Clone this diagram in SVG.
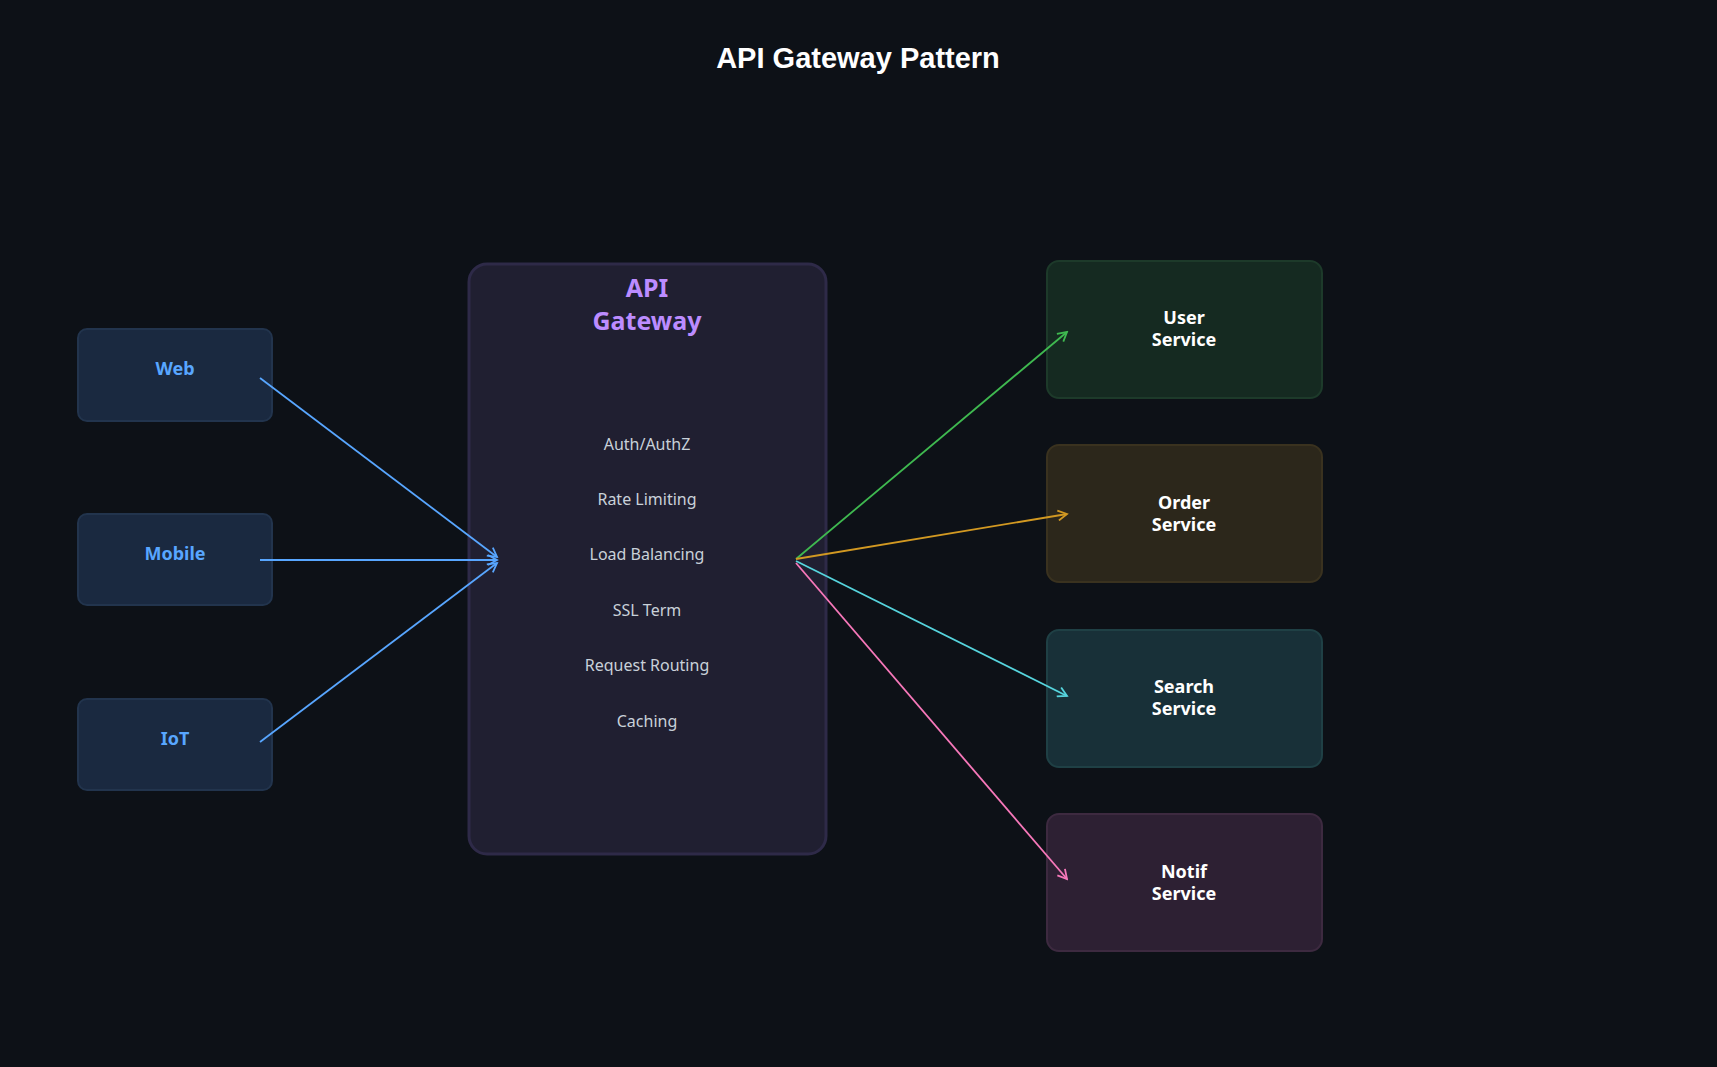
<svg xmlns="http://www.w3.org/2000/svg" width="1717" height="1067" viewBox="0 0 1717 1067">
<style>
text{font-family:"Noto Sans","DejaVu Sans",sans-serif;text-anchor:middle}
.client rect{fill:#1a2940;stroke:#22344d;stroke-width:2}
.client text{fill:#58a6ff;font-size:18px;font-weight:bold}
.svc text{fill:#ffffff;font-size:18px;font-weight:bold}
.item{fill:#c9d1d9;font-size:16px}
.c{fill:none;stroke-width:1.8}
</style>
<defs>
<marker id="mb" markerWidth="12" markerHeight="12" refX="10" refY="6" orient="auto" markerUnits="userSpaceOnUse"><path d="M1,1 L10,6 L1,11" fill="none" stroke="#58a6ff" stroke-width="1.8"/></marker>
<marker id="mg" markerWidth="12" markerHeight="12" refX="10" refY="6" orient="auto" markerUnits="userSpaceOnUse"><path d="M1,1 L10,6 L1,11" fill="none" stroke="#3fb950" stroke-width="1.8"/></marker>
<marker id="mo" markerWidth="12" markerHeight="12" refX="10" refY="6" orient="auto" markerUnits="userSpaceOnUse"><path d="M1,1 L10,6 L1,11" fill="none" stroke="#d29922" stroke-width="1.8"/></marker>
<marker id="mc" markerWidth="12" markerHeight="12" refX="10" refY="6" orient="auto" markerUnits="userSpaceOnUse"><path d="M1,1 L10,6 L1,11" fill="none" stroke="#56d4dd" stroke-width="1.8"/></marker>
<marker id="mp" markerWidth="12" markerHeight="12" refX="10" refY="6" orient="auto" markerUnits="userSpaceOnUse"><path d="M1,1 L10,6 L1,11" fill="none" stroke="#f778ba" stroke-width="1.8"/></marker>
</defs>
<rect width="1717" height="1067" fill="#0d1117"/>
<text x="858" y="68" fill="#ffffff" font-size="29" font-weight="bold" style="font-family:'Liberation Sans',Arial,sans-serif">API Gateway Pattern</text>

<g id="web" class="client"><rect x="78" y="329" width="194" height="92" rx="9"/><text x="175" y="375">Web</text></g>
<g id="mobile" class="client"><rect x="78" y="514" width="194" height="91" rx="9"/><text x="175" y="560">Mobile</text></g>
<g id="iot" class="client"><rect x="78" y="699" width="194" height="91" rx="9"/><text x="175" y="745">IoT</text></g>

<g id="gateway">
<rect x="469" y="264" width="357" height="590" rx="18" fill="#201f31" stroke="#2e2a48" stroke-width="3"/>
<text x="647" y="297" fill="#bc8cff" font-size="25" font-weight="bold">API</text>
<text x="647" y="330" fill="#bc8cff" font-size="25" font-weight="bold">Gateway</text>
<text class="item" x="647" y="450">Auth/AuthZ</text>
<text class="item" x="647" y="505">Rate Limiting</text>
<text class="item" x="647" y="560">Load Balancing</text>
<text class="item" x="647" y="616">SSL Term</text>
<text class="item" x="647" y="671">Request Routing</text>
<text class="item" x="647" y="727">Caching</text>
</g>

<g id="user" class="svc"><rect x="1047" y="261" width="275" height="137" rx="12" fill="#152a21" stroke="#1d3a2a" stroke-width="2"/><text x="1184" y="324">User</text><text x="1184" y="346">Service</text></g>
<g id="order" class="svc"><rect x="1047" y="445" width="275" height="137" rx="12" fill="#2c271b" stroke="#3a321f" stroke-width="2"/><text x="1184" y="509">Order</text><text x="1184" y="531">Service</text></g>
<g id="search" class="svc"><rect x="1047" y="630" width="275" height="137" rx="12" fill="#183038" stroke="#1f4045" stroke-width="2"/><text x="1184" y="693">Search</text><text x="1184" y="715">Service</text></g>
<g id="notif" class="svc"><rect x="1047" y="814" width="275" height="137" rx="12" fill="#2d2033" stroke="#3d2a40" stroke-width="2"/><text x="1184" y="878">Notif</text><text x="1184" y="900">Service</text></g>

<g id="connectors">
<line class="c" x1="260" y1="378" x2="497" y2="557" stroke="#58a6ff" marker-end="url(#mb)"/>
<line class="c" x1="260" y1="560" x2="497" y2="560" stroke="#58a6ff" marker-end="url(#mb)"/>
<line class="c" x1="260" y1="742" x2="497" y2="563" stroke="#58a6ff" marker-end="url(#mb)"/>
<line class="c" x1="796" y1="559" x2="1067" y2="332" stroke="#3fb950" marker-end="url(#mg)"/>
<line class="c" x1="796" y1="559" x2="1067" y2="514" stroke="#d29922" marker-end="url(#mo)"/>
<line class="c" x1="796" y1="561" x2="1067" y2="696" stroke="#56d4dd" marker-end="url(#mc)"/>
<line class="c" x1="796" y1="563" x2="1067" y2="879" stroke="#f778ba" marker-end="url(#mp)"/>
</g>
</svg>
